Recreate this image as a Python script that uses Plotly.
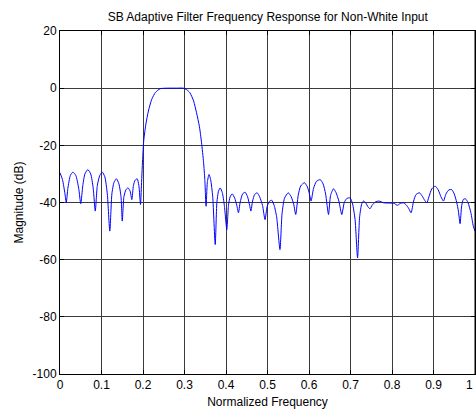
import plotly.graph_objects as go

freq = [0.000, 0.006, 0.012, 0.015, 0.019, 0.025, 0.031, 0.038, 0.045, 0.050,
        0.055, 0.060, 0.067, 0.074, 0.080, 0.085, 0.090, 0.096, 0.102, 0.108,
        0.114, 0.120, 0.125, 0.130, 0.136, 0.142, 0.147, 0.150, 0.154, 0.159,
        0.164, 0.169, 0.173, 0.177, 0.181, 0.186, 0.190, 0.194, 0.196, 0.199,
        0.202, 0.207, 0.213, 0.221, 0.230, 0.241, 0.260, 0.280, 0.297, 0.305,
        0.313, 0.322, 0.329, 0.336, 0.341, 0.346, 0.349, 0.352, 0.355, 0.359,
        0.363, 0.368, 0.374, 0.378, 0.382, 0.386, 0.391, 0.396, 0.402, 0.406,
        0.410, 0.415, 0.421, 0.426, 0.430, 0.434, 0.440, 0.446, 0.452, 0.457,
        0.460, 0.464, 0.469, 0.475, 0.481, 0.488, 0.494, 0.499, 0.504, 0.510,
        0.516, 0.522, 0.530, 0.535, 0.541, 0.550, 0.557, 0.563, 0.568, 0.574,
        0.580, 0.589, 0.596, 0.601, 0.605, 0.611, 0.618, 0.627, 0.634, 0.640,
        0.647, 0.652, 0.659, 0.665, 0.672, 0.679, 0.685, 0.691, 0.699, 0.705,
        0.711, 0.717, 0.722, 0.727, 0.731, 0.737, 0.742, 0.747, 0.752, 0.760,
        0.769, 0.780, 0.795, 0.805, 0.813, 0.820, 0.827, 0.834, 0.840, 0.846,
        0.852, 0.858, 0.866, 0.873, 0.879, 0.884, 0.889, 0.896, 0.904, 0.911,
        0.918, 0.924, 0.930, 0.937, 0.944, 0.950, 0.956, 0.960, 0.964, 0.968,
        0.972, 0.977, 0.983, 0.990, 0.996, 1.000]

magnitude_db = [-29.6, -32.0, -37.0, -40.1, -35.0, -30.5, -29.4, -30.5, -35.0, -40.4,
                -34.0, -30.0, -28.5, -30.0, -35.0, -43.0, -34.0, -30.5, -29.4, -31.0,
                -37.0, -50.0, -37.0, -33.0, -31.7, -33.5, -38.0, -46.5, -38.0, -35.5,
                -34.9, -36.0, -39.0, -34.0, -32.2, -31.7, -34.0, -40.7, -35.0, -25.0,
                -18.0, -12.5, -8.0, -3.9, -1.5, -0.2, 0.0, 0.0, 0.0, -0.5,
                -1.6, -4.5, -8.6, -13.5, -19.0, -26.0, -32.0, -41.3, -33.0, -30.2,
                -32.0, -38.0, -54.7, -40.0, -36.0, -34.9, -36.5, -41.0, -49.5, -41.0,
                -38.0, -37.0, -38.5, -41.0, -43.6, -40.0, -37.0, -36.4, -38.0, -41.0,
                -43.0, -39.5, -37.2, -36.6, -38.0, -41.0, -46.0, -41.5, -39.7, -39.2,
                -41.0, -45.0, -56.5, -44.0, -38.5, -36.6, -38.0, -40.5, -44.2, -37.5,
                -34.2, -33.1, -34.5, -37.0, -39.5, -35.0, -32.6, -32.0, -33.5, -37.0,
                -44.2, -37.5, -35.2, -36.5, -39.5, -44.2, -40.0, -38.6, -38.4, -40.5,
                -46.0, -59.4, -45.0, -40.5, -39.5, -40.2, -41.5, -42.2, -41.0, -39.8,
                -39.5, -40.1, -40.2, -40.3, -41.0, -40.3, -40.1, -40.8, -42.0, -43.6,
                -39.5, -37.2, -36.6, -37.8, -39.3, -40.1, -38.0, -35.2, -34.3, -35.5,
                -38.0, -39.5, -37.0, -35.6, -35.5, -37.0, -40.0, -43.0, -47.4, -41.0,
                -38.9, -38.7, -40.0, -43.5, -48.3, -50.0]

x_ticks = [0, 0.1, 0.2, 0.3, 0.4, 0.5, 0.6, 0.7, 0.8, 0.9, 1]
x_tick_labels = ["0", "0.1", "0.2", "0.3", "0.4", "0.5", "0.6", "0.7", "0.8", "0.9", "1"]
y_ticks = [-100, -80, -60, -40, -20, 0, 20]
y_tick_labels = ["-100", "-80", "-60", "-40", "-20", "0", "20"]

font_family = "Liberation Sans, Arial, sans-serif"
fs = 12

fig = go.Figure()
fig.add_trace(go.Scatter(
    x=freq, y=magnitude_db, mode="lines",
    line=dict(color="#0000ff", width=1, shape="spline", smoothing=0.6),
    showlegend=False, hoverinfo="skip"))

# the last x tick label sits at the figure's right edge; draw it as text, kept inside the page
fig.add_annotation(x=x_ticks[-1], y=0, xref="x", yref="paper",
                   text=x_tick_labels[-1], showarrow=False,
                   xanchor="right", yanchor="top", yshift=-3, xshift=-1,
                   borderpad=0,
                   font=dict(family=font_family, size=fs, color="#000000"))

fig.update_layout(
    width=476, height=410,
    margin=dict(l=60, r=1, t=31, b=36, pad=0),
    paper_bgcolor="white", plot_bgcolor="white",
    font=dict(family=font_family, size=fs, color="#000000"),
    title=dict(text="SB Adaptive Filter Frequency Response for Non-White Input",
               x=0.5625, xanchor="center", y=0.959, yanchor="middle",
               font=dict(family=font_family, size=fs, color="#000000")),
    xaxis=dict(range=[0, 1], tickvals=x_ticks[:-1], ticktext=x_tick_labels[:-1],
               showgrid=True, gridcolor="#3a3a3a", gridwidth=1,
               showline=True, linecolor="#000000", linewidth=1, mirror="ticks",
               ticks="inside", ticklen=4, tickcolor="#000000",
               zeroline=False, tickfont=dict(size=fs),
               title=dict(text="Normalized Frequency", standoff=6,
                          font=dict(size=fs))),
    yaxis=dict(range=[-100, 20], tickvals=y_ticks, ticktext=y_tick_labels,
               showgrid=True, gridcolor="#3a3a3a", gridwidth=1,
               showline=True, linecolor="#000000", linewidth=1, mirror="ticks",
               ticks="inside", ticklen=4, tickcolor="#000000",
               zeroline=False, tickfont=dict(size=fs),
               title=dict(text="Magnitude (dB)", standoff=6,
                          font=dict(size=fs))),
)
fig.add_shape(type="line", xref="x", yref="paper", x0=1, x1=1, y0=0, y1=1,
              line=dict(color="#000000", width=1))

fig.write_html("out.html")
